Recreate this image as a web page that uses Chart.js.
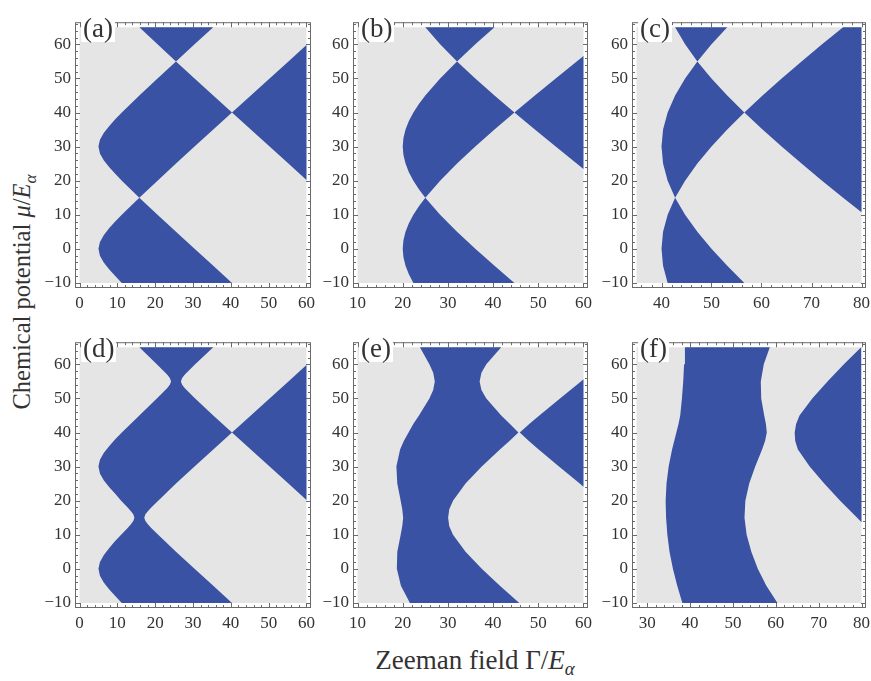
<!DOCTYPE html>
<html>
<head>
<meta charset="utf-8">
<script src="https://cdn.jsdelivr.net/npm/chart.js@4.4.1/dist/chart.umd.min.js"></script>
<style>
  html, body { margin:0; padding:0; background:#fff; }
  #wrap { position:relative; width:871px; height:681px; overflow:hidden; background:#fff; }
  canvas { position:absolute; }
  .plab { position:absolute; background:#fff; font-family:"Liberation Serif","Times New Roman",serif; font-size:27px; line-height:27px; color:#333; padding:0 2px; }
  .title { position:absolute; font-family:"Liberation Serif","Times New Roman",serif; color:#333; white-space:nowrap; line-height:1; }
</style>
</head>
<body>
<div id="wrap">
  <div class="title" id="xt" style="left:475px; top:663px; font-size:27px; transform:translate(-50%,-50%);">Zeeman field Γ/<i>E</i><sub style="font-size:0.7em;"><i>α</i></sub></div>
  <div class="title" id="yt" style="left:25px; top:292px; font-size:24.5px; transform:translate(-50%,-50%) rotate(-90deg);">Chemical potential <i>μ</i>/<i>E</i><sub style="font-size:0.7em;"><i>α</i></sub></div>
</div>
<script>
// ---------- data ----------
const yDomain = [-10, 65];
const yTicks = [-10, 0, 10, 20, 30, 40, 50, 60];

const xDomainA = [0, 60];
const xTicksA = [0, 10, 20, 30, 40, 50, 60];
const xDomainB = [10, 60];
const xTicksB = [10, 20, 30, 40, 50, 60];
const xDomainC = [35, 80];
const xTicksC = [40, 50, 60, 70, 80];
const xDomainD = [0, 60];
const xTicksD = [0, 10, 20, 30, 40, 50, 60];
const xDomainE = [10, 60];
const xTicksE = [10, 20, 30, 40, 50, 60];
const xDomainF = [27.5, 80];
const xTicksF = [30, 40, 50, 60, 70, 80];

// panel (a): topological regions, boundary points [Γ, μ]
const regionA1 = [[11.18,-10],[9.43,-8],[7.81,-6],[6.40,-4],[5.39,-2],[5,0],[5.39,2],[6.40,4],[7.81,6],[9.43,8],[11.18,10],[13.0,12],[15.81,15],[20.62,10],[25.5,5],[30.41,0],[35.36,-5],[40.31,-10]];
const regionA2 = [[15.81,15],[11.18,20],[9.43,22],[7.81,24],[6.40,26],[5.39,28],[5,30],[5.39,32],[6.40,34],[7.81,36],[9.43,38],[11.18,40],[15.81,45],[20.62,50],[25.5,55],[30.41,50],[35.36,45],[40.31,40],[35.36,35],[30.41,30],[25.5,25],[20.62,20]];
const regionA3 = [[40.31,40],[45.28,45],[50.25,50],[55.23,55],[60,59.79],[60,20.21],[55.23,25],[50.25,30],[45.28,35]];
const regionA4 = [[25.5,55],[20.62,60],[15.81,65],[35.36,65],[30.41,60]];

// panel (b)
const regionB1 = [[22.36,-10],[21.36,-7.5],[20.62,-5],[20.16,-2.5],[20,0],[20.16,2.5],[20.62,5],[21.36,7.5],[22.36,10],[23.58,12.5],[25,15],[28.28,10],[32.02,5],[36.06,0],[40.31,-5],[44.72,-10]];
const regionB2 = [[25,15],[23.58,17.5],[22.36,20],[21.36,22.5],[20.62,25],[20.16,27.5],[20,30],[20.16,32.5],[20.62,35],[21.36,37.5],[22.36,40],[23.58,42.5],[25,45],[28.28,50],[32.02,55],[36.06,50],[40.31,45],[44.72,40],[40.31,35],[36.06,30],[32.02,25],[28.28,20]];
const regionB3 = [[44.72,40],[49.24,45],[53.85,50],[60,56.57],[60,23.43],[53.85,30],[49.24,35]];
const regionB4 = [[32.02,55],[28.28,60],[25,65],[40.31,65],[36.06,60]];

// panel (c)
const regionC1 = [[41.23,-10],[40.31,-5],[40,0],[40.31,5],[41.23,10],[42.72,15],[44.72,10],[47.17,5],[50,0],[53.15,-5],[56.57,-10]];
const regionC2 = [[42.72,15],[41.23,20],[40.31,25],[40,30],[40.31,35],[41.23,40],[42.72,45],[44.72,50],[47.17,55],[50,50],[53.15,45],[56.57,40],[53.15,35],[50,30],[47.17,25],[44.72,20]];
const regionC3 = [[56.57,40],[60.21,45],[64.03,50],[68.01,55],[72.11,60],[76.32,65],[80,65],[80,10.72],[76.32,15],[72.11,20],[68.01,25],[64.03,30],[60.21,35]];
const regionC4 = [[47.17,55],[44.72,60],[42.72,65],[53.15,65],[50,60]];

// panel (d)
const regionD1 = [[11.18,-10],[9.43,-8],[7.81,-6],[6.40,-4],[5.39,-2],[5,0],[5.39,2],[6.40,4],[7.81,6],[9.3,8],[11.0,10],[12.72,12],[13.53,13],[14.21,14],[14.51,15],[14.21,16],[13.53,17],[12.72,18],[11.0,20],[9.43,22],[7.81,24],[6.40,26],[5.39,28],[5,30],[5.39,32],[6.40,34],[7.81,36],[9.43,38],[11.18,40],[15.81,45],[20.43,50],[22.29,52],[23.15,53],[23.87,54],[24.2,55],[23.87,56],[23.15,57],[22.29,58],[20.43,60],[15.81,65],
  [35.36,65],[30.57,60],[28.71,58],[27.85,57],[27.13,56],[26.8,55],[27.13,54],[27.85,53],[28.71,52],[30.57,50],[35.36,45],[40.31,40],[35.36,35],[30.41,30],[25.5,25],[20.8,20],[18.96,18],[18.12,17],[17.42,16],[17.11,15],[17.42,14],[18.12,13],[18.96,12],[20.8,10],[25.5,5],[30.41,0],[35.36,-5],[40.31,-10]];
const regionD2 = [[40.31,40],[45.28,45],[50.25,50],[55.23,55],[60,59.79],[60,20.21],[55.23,25],[50.25,30],[45.28,35]];

// panel (e)
const regionE1 = [[21.6,-10],[19.6,-5],[18.7,0],[18.8,5],[19.55,10],[19.9,12.5],[20.1,15],[19.9,17.5],[19.55,20],[18.8,25],[18.6,30],[19.42,35],[20.24,37.5],[21.29,40],[22.34,42.5],[23.6,45],[25.9,50],[26.75,52.5],[27.1,55],[26.75,57.5],[25.9,60],[23.8,65],
  [41.80,65],[38.50,60],[37.42,57.5],[37.02,55],[37.42,52.5],[38.50,50],[41.80,45],[43.74,42.5],[45.6,40],[43.62,37.5],[41.51,35],[37.49,30],[33.90,25],[31.13,20],[30.30,17.5],[30.05,15],[30.30,12.5],[31.13,10],[33.90,5],[37.49,0],[41.51,-5],[45.79,-10]];
const regionE2 = [[45.9,40],[48.0,42.5],[50.23,45],[54.80,50],[59.43,55],[60,55.6],[60,24.1],[59.17,25],[54.58,30],[50.09,35],[47.92,37.5]];

// panel (f)
const regionF1 = [[38.2,-10],[37.0,-5],[36.0,0],[35.2,5],[34.7,10],[34.4,15],[34.3,20],[34.5,25],[35.0,30],[35.8,35],[36.8,40],[37.3,42.5],[37.7,45],[38.1,50],[38.4,55],[38.6,60],[38.8,65],
  [58.6,65],[57.2,60],[56.5,55],[56.6,50],[57.3,45],[57.7,42.5],[57.9,40],[57.5,37.5],[56.8,35],[55.2,30],[53.8,25],[52.9,20],[52.7,15],[53.2,10],[54.3,5],[55.8,0],[57.8,-5],[60.4,-10]];
const regionF2 = [[80,13.7],[78.98,15],[75.02,20],[71.3,25],[67.91,30],[65.16,35],[64.53,37.5],[64.41,40],[64.74,42.5],[65.53,45],[68.51,50],[72.06,55],[75.89,60],[79.92,65],[80,65]];

// ---------- layout ----------
const BLUE = '#3a52a3';
const GRAY = '#e5e5e5';
const panels = [
  { id:'a', left:75,  top:10,  w:236, h:278, xd:xDomainA, xt:xTicksA, regions:[regionA1,regionA2,regionA3,regionA4] },
  { id:'b', left:353, top:10,  w:235, h:278, xd:xDomainB, xt:xTicksB, regions:[regionB1,regionB2,regionB3,regionB4] },
  { id:'c', left:632, top:10,  w:234, h:278, xd:xDomainC, xt:xTicksC, regions:[regionC1,regionC2,regionC3,regionC4] },
  { id:'d', left:75,  top:330, w:236, h:278, xd:xDomainD, xt:xTicksD, regions:[regionD1,regionD2] },
  { id:'e', left:353, top:330, w:235, h:278, xd:xDomainE, xt:xTicksE, regions:[regionE1,regionE2] },
  { id:'f', left:632, top:330, w:234, h:278, xd:xDomainF, xt:xTicksF, regions:[regionF1,regionF2] },
];
const LPAD = 48, TPAD = 2, RPAD = 12, BPAD = 32;

const framePlugin = {
  id: 'frameTicks',
  afterDraw(chart) {
    const { ctx, chartArea: { left, right, top, bottom }, scales: { x, y } } = chart;
    ctx.save();
    ctx.strokeStyle = '#6a6a6a';
    ctx.lineWidth = 1;
    ctx.strokeRect(left + 0.5, top + 0.5, right - left - 1, bottom - top - 1);
    ctx.beginPath();
    for (let v = Math.ceil(x.min / 2) * 2; v <= x.max; v += 2) {
      const px = Math.round(x.getPixelForValue(v)) + 0.5;
      const len = (v % 10 === 0) ? 5 : 3;
      ctx.moveTo(px, bottom); ctx.lineTo(px, bottom - len);
      ctx.moveTo(px, top); ctx.lineTo(px, top + len);
    }
    for (let v = Math.ceil(y.min / 2) * 2; v <= y.max; v += 2) {
      const py = Math.round(y.getPixelForValue(v)) + 0.5;
      const len = (v % 10 === 0) ? 5 : 3;
      ctx.moveTo(left, py); ctx.lineTo(left + len, py);
      ctx.moveTo(right, py); ctx.lineTo(right - len, py);
    }
    ctx.stroke();
    ctx.restore();
  }
};

const wrap = document.getElementById('wrap');
const fmt = v => (v < 0 ? '\u2212' + Math.abs(v) : String(v));

panels.forEach(p => {
  const cv = document.createElement('canvas');
  const W = p.w + LPAD + RPAD, H = p.h + TPAD + BPAD;
  cv.width = W; cv.height = H;
  cv.style.left = (p.left - LPAD) + 'px';
  cv.style.top = (p.top - TPAD) + 'px';
  cv.style.width = W + 'px'; cv.style.height = H + 'px';
  wrap.appendChild(cv);

  const xpad = (p.xd[1] - p.xd[0]) * 0.02;
  const ypad = (yDomain[1] - yDomain[0]) * 0.02;
  const toPts = arr => arr.map(([x, y]) => ({ x, y }));

  const datasets = p.regions.map(r => ({
    data: toPts(r), showLine: true, fill: 'shape', backgroundColor: BLUE,
    borderWidth: 0, borderColor: BLUE, pointRadius: 0, tension: 0, order: 1
  }));
  datasets.push({
    data: toPts([[p.xd[0], yDomain[0]], [p.xd[1], yDomain[0]], [p.xd[1], yDomain[1]], [p.xd[0], yDomain[1]]]),
    showLine: true, fill: 'shape', backgroundColor: GRAY, borderWidth: 0, pointRadius: 0, order: 10
  });

  new Chart(cv, {
    type: 'scatter',
    data: { datasets },
    options: {
      responsive: false, animation: false, devicePixelRatio: 1,
      layout: { padding: { left: 0, top: TPAD, right: RPAD, bottom: 0 } },
      plugins: { legend: { display: false }, tooltip: { enabled: false } },
      events: [],
      scales: {
        x: {
          type: 'linear', min: p.xd[0] - xpad, max: p.xd[1] + xpad,
          grid: { display: false, drawTicks: false }, border: { display: false },
          afterBuildTicks: s => { s.ticks = p.xt.map(v => ({ value: v })); },
          afterFit: s => { s.height = BPAD; },
          ticks: { autoSkip: false, maxRotation: 0, padding: 5, color: '#333',
                   font: { family: '"Liberation Serif", serif', size: 17 }, callback: fmt }
        },
        y: {
          type: 'linear', min: yDomain[0] - ypad, max: yDomain[1] + ypad,
          grid: { display: false, drawTicks: false }, border: { display: false },
          afterBuildTicks: s => { s.ticks = yTicks.map(v => ({ value: v })); },
          afterFit: s => { s.width = LPAD; },
          ticks: { autoSkip: false, padding: 4, color: '#333',
                   font: { family: '"Liberation Serif", serif', size: 17 }, callback: fmt }
        }
      }
    },
    plugins: [framePlugin]
  });

  const lab = document.createElement('div');
  lab.className = 'plab';
  lab.textContent = '(' + p.id + ')';
  lab.style.left = (p.left + 6) + 'px';
  lab.style.top = (p.top + 5) + 'px';
  wrap.appendChild(lab);
});
</script>
</body>
</html>
